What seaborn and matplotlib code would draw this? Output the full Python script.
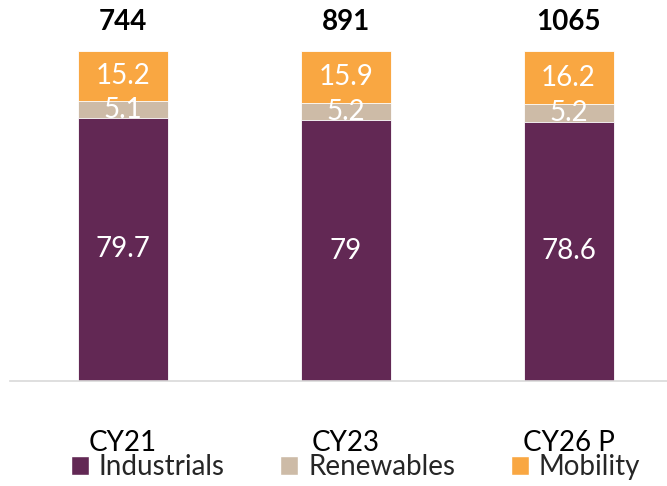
import matplotlib
matplotlib.use("Agg")
import matplotlib.pyplot as plt
import seaborn as sns
import pandas as pd
from matplotlib.patches import Patch

categories = ["CY21", "CY23", "CY26 P"]
totals = [744, 891, 1065]
industrials = [79.7, 79, 78.6]
renewables = [5.1, 5.2, 5.2]
mobility = [15.2, 15.9, 16.2]

c_ind = "#622854"
c_ren = "#CDBBA7"
c_mob = "#F9A742"

sns.set_theme(style="white")
plt.rcParams["font.family"] = ["Lato", "DejaVu Sans"]

df = pd.DataFrame({"cat": categories, "ind": industrials, "ren": renewables, "mob": mobility})
df["lvl2"] = df["ind"] + df["ren"]
df["lvl3"] = df["lvl2"] + df["mob"]

fig = plt.figure(figsize=(6.67, 4.86), dpi=100)
ax = fig.add_axes([10 / 667, 1 - 381 / 486, 657 / 667, 330 / 486])

w = 90 / 222.75
for col, color in [("lvl3", c_mob), ("lvl2", c_ren), ("ind", c_ind)]:
    sns.barplot(data=df, x="cat", y=col, color=color, width=w, ax=ax,
                saturation=1, edgecolor="white", linewidth=0.6, errorbar=None)

fs = 20
for i in range(len(categories)):
    ind, ren, mob = industrials[i], renewables[i], mobility[i]
    ax.text(i, ind / 2, f"{ind:g}", ha="center", va="center", color="white", fontsize=fs)
    ax.text(i, ind + ren / 2, f"{ren:g}", ha="center", va="center", color="white", fontsize=fs)
    ax.text(i, ind + ren + mob / 2, f"{mob:g}", ha="center", va="center", color="white", fontsize=fs)
    ax.text(i, 100 + 29 / 3.3, f"{totals[i]}", ha="center", va="center", color="black",
            fontsize=fs, fontweight="bold", clip_on=False)

ax.set_xlim(-(123 - 10) / 222.75, 2 + (667 - 568.5) / 222.75)
ax.set_ylim(0, 100)
ax.set_xlabel("")
ax.set_ylabel("")
ax.set_yticks([])
ax.tick_params(axis="x", length=0, pad=35.5, labelsize=fs, labelcolor="black")
for s in ["top", "right", "left"]:
    ax.spines[s].set_visible(False)
ax.spines["bottom"].set_color("#D9D9D9")
ax.spines["bottom"].set_linewidth(1.2)

handles = [Patch(facecolor=c_ind, label="Industrials"),
           Patch(facecolor=c_ren, label="Renewables"),
           Patch(facecolor=c_mob, label="Mobility")]
fig.legend(handles=handles, loc="center", bbox_to_anchor=(0.533, 1 - 467 / 486), ncol=3,
           frameon=False, fontsize=fs, handlelength=0.65, handleheight=0.65,
           handletextpad=0.35, columnspacing=2.0, borderpad=0, borderaxespad=0)

fig.savefig("out.png", dpi=100)
